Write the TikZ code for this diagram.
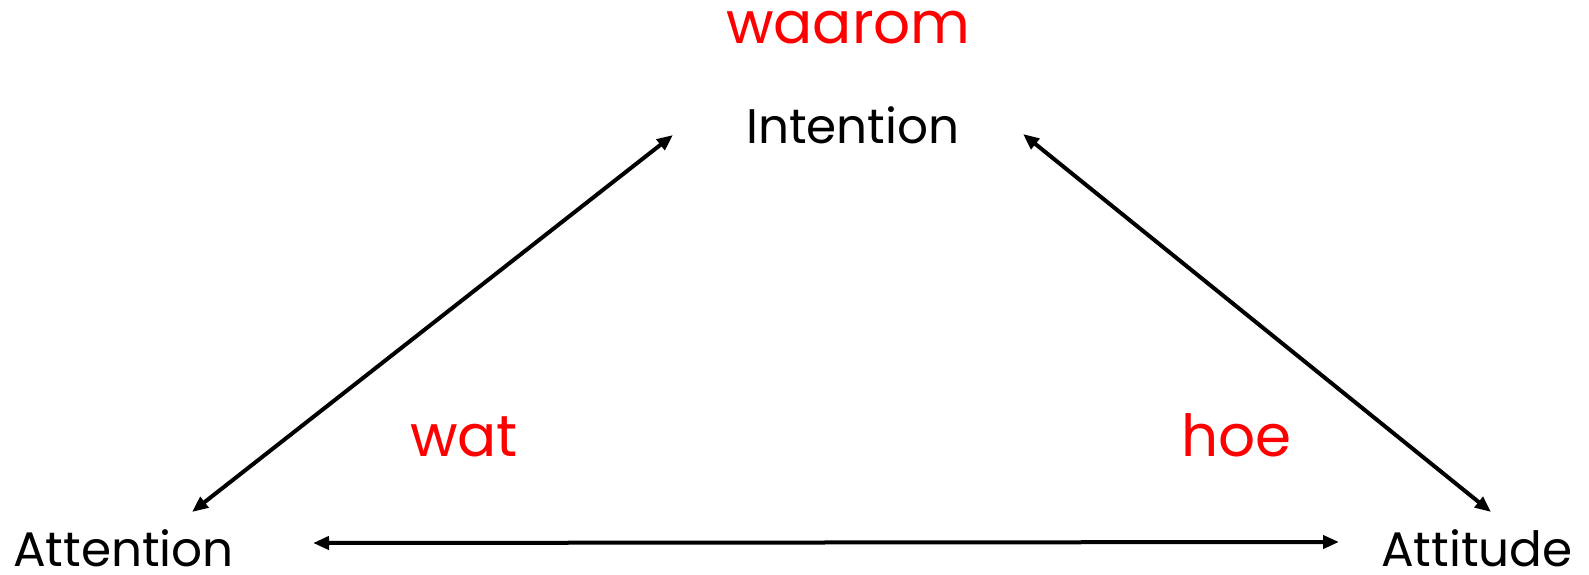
\documentclass[tikz,border=0pt]{standalone}
\usepackage{fontspec}
\setmainfont{Poppins}
\usetikzlibrary{arrows.meta}
\begin{document}
\begin{tikzpicture}[x=1pt,y=1pt,
  lbl/.style={anchor=base west,inner sep=0pt,text depth=0pt,font=\fontsize{48.5}{54}\selectfont},
  red lbl/.style={anchor=base west,inner sep=0pt,font=\fontsize{58}{64}\selectfont,text={rgb,255:red,255;green,0;blue,0}},
  conn/.style={line width=4pt,{Triangle[length=16pt,width=13pt]}-{Triangle[length=16pt,width=13pt]}}]
\useasboundingbox (0,0) rectangle (1589,575);
\node[lbl] (att) at (13,8) {Attention};
\node[lbl] (atd) at (1381,8) {Attitude};
\node[lbl] (int) at (746,431) {Intention};
\node[red lbl] (waarom) at (726,531) {waarom};
\node[red lbl] (wat) at (410,118) {wat};
\node[red lbl] (hoe) at (1181,118) {hoe};
\coordinate (a1) at (192,63);
\coordinate (i1) at (673,440);
\coordinate (i2) at (1023,441);
\coordinate (t1) at (1491,63);
\coordinate (a2) at (313,32);
\coordinate (t2) at (1339,33);
\draw[conn] (a1) -- (i1);
\draw[conn] (i2) -- (t1);
\draw[conn] (a2) -- (t2);
\end{tikzpicture}
\end{document}
